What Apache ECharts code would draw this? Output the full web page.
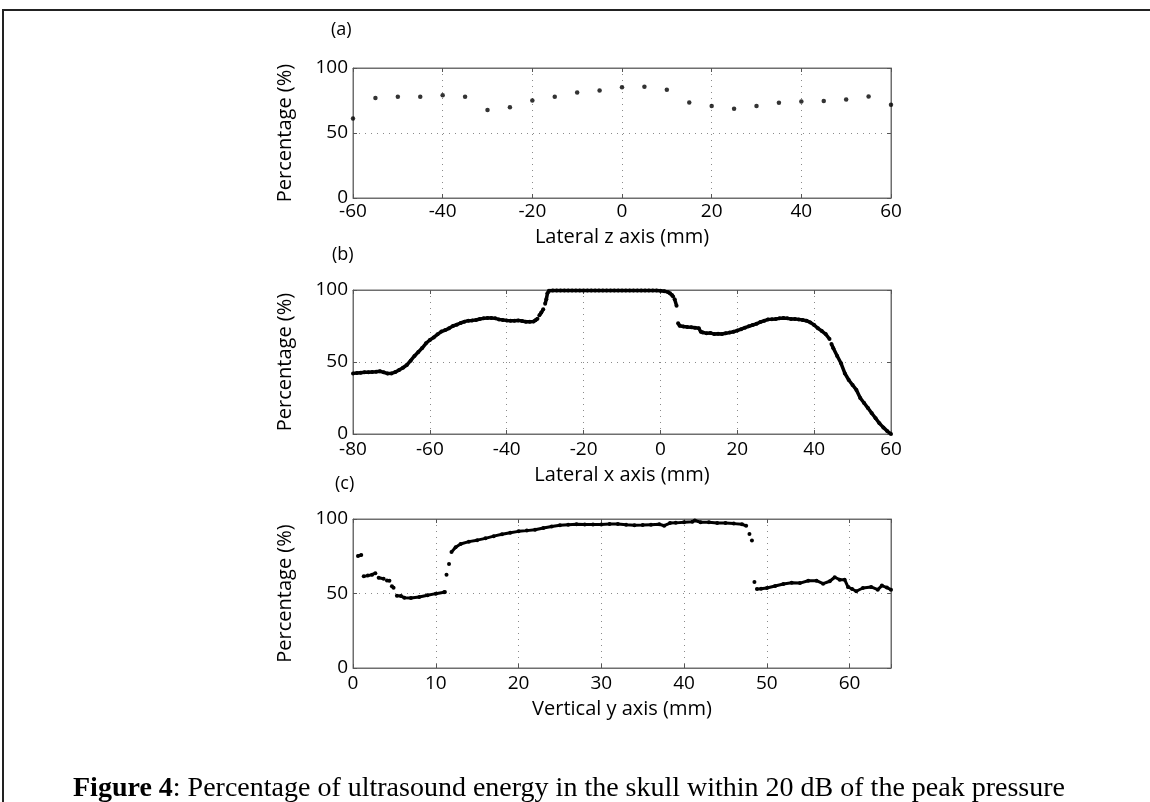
<!DOCTYPE html>
<html>
<head>
<meta charset="utf-8">
<script src="https://cdn.jsdelivr.net/npm/echarts@6/dist/echarts.min.js"></script>
<style>
html, body { margin: 0; padding: 0; background: #fff; }
#draw { width: 1150px; height: 802px; }
</style>
</head>
<body>
<div id="draw"></div>
<script>
// (a) lateral z scan, one point every 5 mm
var zPos = [ -60, -55, -50, -45, -40, -35, -30, -25, -20, -15, -10, -5, 0, 5, 10, 15, 20, 25, 30, 35, 40, 45, 50, 55, 60 ];
var zPct = [ 61.2, 77.0, 77.8, 77.8, 79.1, 77.8, 67.6, 69.9, 75.0, 77.8, 81.1, 82.7, 85.2, 85.5, 83.2, 73.5, 70.7, 68.6, 70.7, 73.2, 74.2, 74.7, 75.8, 78.1, 71.7 ];

// (b) lateral x scan, [mm, %], null = gap in the trace
var xScan = [
	[-80,42.1],[-79,42.3],[-78,42.6],[-77,42.8],[-76,42.8],[-75,43.0],[-74,43.2],[-73,43.6],[-72,42.8],[-71,42.0],
	[-70,42.1],[-69,43.0],[-68,44.4],[-67,46.0],[-66,47.9],[-65,50.9],[-64,54.2],[-63,57.0],[-62,59.7],[-61,63.0],
	[-60,65.3],[-59,67.1],[-58,69.2],[-57,71.1],[-56,72.2],[-55,73.4],[-54,75.0],[-53,75.9],[-52,77.1],[-51,78.0],
	[-50,78.7],[-49,78.9],[-48,79.2],[-47,79.9],[-46,80.3],[-45,80.6],[-44,80.6],[-43,80.3],[-42,79.6],[-41,79.2],
	[-40,78.9],[-39,78.7],[-38,78.7],[-37,78.9],[-36,78.5],[-35,78.0],[-34,78.0],[-33,78.2],[-32.5,79.0],[-32,80.0],
	null,[-31.5,82.5],[-31,84.3],[-30.5,86.6],null,[-30,90.5],[-29.7,93.5],[-29.4,97.7],
	[-29,99.5],[-28,99.7],[-27,99.7],[-26,99.7],[-25,99.7],[-24,99.7],[-23,99.7],[-22,99.7],[-21,99.7],[-20,99.7],
	[-19,99.7],[-18,99.7],[-17,99.7],[-16,99.7],[-15,99.7],[-14,99.7],[-13,99.7],[-12,99.7],[-11,99.7],[-10,99.7],
	[-9,99.7],[-8,99.7],[-7,99.7],[-6,99.7],[-5,99.7],[-4,99.7],[-3,99.7],[-2,99.7],[-1,99.6],[0,99.5],
	[1,99.2],[2,98.5],[2.5,97.7],[3,96.5],[3.3,95.5],null,[3.7,93.5],[4.2,89.0],null,
	[4.6,76.9],[5,75.2],[6,74.6],[7,74.3],[8,74.1],[9,73.8],[10,73.4],[10.5,71.0],[11,70.5],[12,69.9],
	[13,70.2],[14,69.4],[15,69.6],[16,69.4],[17,69.9],[18,70.4],[19,71.0],[20,71.8],[21,72.8],[22,73.8],
	[23,74.8],[24,75.7],[25,76.5],[26,77.8],[27,78.6],[28,79.6],[29,79.7],[30,79.9],[31,80.3],[32,80.6],
	[33,80.3],[34,79.9],[35,79.8],[36,79.6],[37,79.2],[38,78.7],[39,77.5],[40,75.7],[41,73.4],[42,71.5],
	[43,69.4],[44,66.0],null,[44.5,62.5],[45,59.5],[46,54.2],[47,49.1],[48,42.1],[49,37.5],[50,34.0],
	[51,30.6],[52,25.0],[53,21.5],[54,18.0],[55,14.4],[56,10.9],[57,7.4],[58,4.6],[59,2.0],[60,0]
];

// (c) vertical y scan, [mm, %], null = gap in the trace
var yScan = [
	[0.6,75.2],[1.0,75.8],null,[1.3,61.5],[1.8,62.0],[2.3,62.6],[2.7,63.6],null,[3.1,60.6],[3.7,59.9],null,
	[4.1,58.8],[4.4,58.6],null,[4.7,54.8],[4.9,53.9],null,[5.3,48.5],[5.8,48.3],[6.2,47.2],[7,47.0],[8,47.6],
	[9,48.8],[10,49.9],[11,50.8],[11.1,51.0],null,[11.3,62.6],null,[11.6,69.8],null,
	[11.9,77.9],[12.4,81.0],[13,83.2],[14,84.8],[15,85.8],[16,87.0],[17,88.5],[18,89.8],[19,90.8],[20,91.7],
	[21,92.2],[22,92.8],[23,94.0],[24,95.0],[25,95.8],[26,96.2],[27,96.4],[28,96.3],[29,96.3],[30,96.3],
	[31,96.6],[32,96.7],[33,96.2],[34,95.8],[35,95.9],[36,96.2],[37,96.5],[37.6,95.5],[38.3,97.3],[39,97.4],
	[40,97.8],[41,98.2],[41.3,99.0],[42,97.8],[43,97.8],[44,97.3],[45,97.3],[46,96.9],[47,96.4],[47.5,95.5],
	null,[47.9,89.9],null,[48.2,85.5],null,[48.5,57.7],null,
	[48.8,53.0],[49.3,53.2],[50,53.7],[51,55.0],[52,56.4],[53,57.2],[54,57.0],[55,58.6],[56,58.6],[56.8,56.6],
	[57.6,58.2],[58.2,60.9],[58.8,59.3],[59.4,59.3],[59.8,54.4],[60.3,53.0],[60.8,51.5],[61.6,53.7],[62.6,54.4],[63.4,52.6],
	[63.9,55.3],[64.5,54.0],[65,52.6]
];

var pctTicks = [ 0, 50, 100 ];
var panels = [
	{ tag : '(a)', xName : 'Lateral z axis (mm)', min : -60, max : 60, step : 20 },
	{ tag : '(b)', xName : 'Lateral x axis (mm)', min : -80, max : 60, step : 20 },
	{ tag : '(c)', xName : 'Vertical y axis (mm)', min : 0, max : 65, step : 10 }
];

(function() {
	var myChart = echarts.init(document.getElementById('draw'));
	var sans = 'Open Sans';
	var grids = [
		{ left : 353, right : 259, top : 68, height : 130 },
		{ left : 353, right : 259, top : 290, height : 144 },
		{ left : 353, right : 259, top : 519, height : 149 }
	];
	var dotted = { color : '#8a8a8a', width : 1, type : [ 1, 5 ] };
	var frame = { color : '#6e6e6e', width : 1 };
	var tick = { inside : true, length : 4, lineStyle : { color : '#555' } };
	var xAxes = [], yAxes = [];

	panels.forEach(function(p, i) {
		grids[i].show = true;
		grids[i].borderColor = '#6e6e6e';
		grids[i].borderWidth = 1;
		xAxes.push({
			type : 'value', gridIndex : i, position : 'bottom',
			min : p.min, max : p.max, interval : p.step,
			name : p.xName, nameLocation : 'middle', nameGap : i == 0 ? 29 : 31,
			nameTextStyle : { fontFamily : sans, fontSize : 20, color : '#000' },
			axisLine : { show : true, onZero : false, lineStyle : frame },
			axisTick : tick,
			axisLabel : {
				fontFamily : sans, fontSize : 19, color : '#000', margin : i == 0 ? 4 : 6,
				formatter : function(v) { return (v % p.step === 0) ? String(v) : ''; }
			},
			splitLine : { show : true, lineStyle : dotted }
		});
		xAxes.push({
			type : 'value', gridIndex : i, position : 'top',
			min : p.min, max : p.max, interval : p.step,
			axisLine : { show : true, onZero : false, lineStyle : frame },
			axisTick : tick,
			axisLabel : { show : false },
			splitLine : { show : false }
		});
		yAxes.push({
			type : 'value', gridIndex : i, position : 'left',
			min : pctTicks[0], max : pctTicks[2], interval : pctTicks[1] - pctTicks[0],
			name : 'Percentage (%)', nameLocation : 'middle', nameGap : 58,
			nameTextStyle : { fontFamily : sans, fontSize : 20, color : '#000' },
			axisLine : { show : true, onZero : false, lineStyle : frame },
			axisTick : tick,
			axisLabel : {
				fontFamily : sans, fontSize : 19, color : '#000', margin : 5,
				padding : [ 0, 0, 8, 0 ]
			},
			splitLine : { show : true, lineStyle : dotted }
		});
		yAxes.push({
			type : 'value', gridIndex : i, position : 'right',
			min : pctTicks[0], max : pctTicks[2], interval : pctTicks[1] - pctTicks[0],
			axisLine : { show : true, onZero : false, lineStyle : frame },
			axisTick : tick,
			axisLabel : { show : false },
			splitLine : { show : false }
		});
	});

	var withGaps = function(list) {
		return list.map(function(d) {
			return d == null ? [ '-', '-' ] : d;
		});
	};

	var option = {
		animation : false,
		backgroundColor : '#fff',
		title : {
			text : '{b|Figure 4}: Percentage of ultrasound energy in the skull within 20 dB of the peak pressure',
			left : 68, top : 770,
			textStyle : {
				fontFamily : 'Liberation Serif', fontSize : 28, fontWeight : 'normal', color : '#000',
				rich : { b : { fontFamily : 'Liberation Serif', fontSize : 28, fontWeight : 'bold', color : '#000' } }
			}
		},
		grid : grids,
		xAxis : xAxes,
		yAxis : yAxes,
		graphic : [
			{ type : 'rect', shape : { x : 3, y : 10, width : 1200, height : 900 },
				style : { fill : 'none', stroke : '#222', lineWidth : 2 }, silent : true },
			{ type : 'text', left : 331, top : 21, style : { text : panels[0].tag, font : '18px "Open Sans"', fill : '#000' } },
			{ type : 'text', left : 332, top : 246, style : { text : panels[1].tag, font : '18px "Open Sans"', fill : '#000' } },
			{ type : 'text', left : 335, top : 475, style : { text : panels[2].tag, font : '18px "Open Sans"', fill : '#000' } }
		],
		series : [ {
			name : 'z',
			type : 'scatter',
			xAxisIndex : 0, yAxisIndex : 0,
			symbolSize : 4.5,
			itemStyle : { color : '#000' },
			data : zPos.map(function(x, k) { return [ x, zPct[k] ]; })
		}, {
			name : 'x',
			type : 'line',
			xAxisIndex : 2, yAxisIndex : 2,
			symbol : 'circle', symbolSize : 4, showSymbol : true,
			connectNulls : false,
			lineStyle : { color : '#000', width : 3.5 },
			itemStyle : { color : '#000' },
			data : withGaps(xScan)
		}, {
			name : 'y',
			type : 'line',
			xAxisIndex : 4, yAxisIndex : 4,
			symbol : 'circle', symbolSize : 4, showSymbol : true,
			connectNulls : false,
			lineStyle : { color : '#000', width : 3 },
			itemStyle : { color : '#000' },
			data : withGaps(yScan)
		} ]
	};
	myChart.setOption(option);
})();
</script>
</body>
</html>
